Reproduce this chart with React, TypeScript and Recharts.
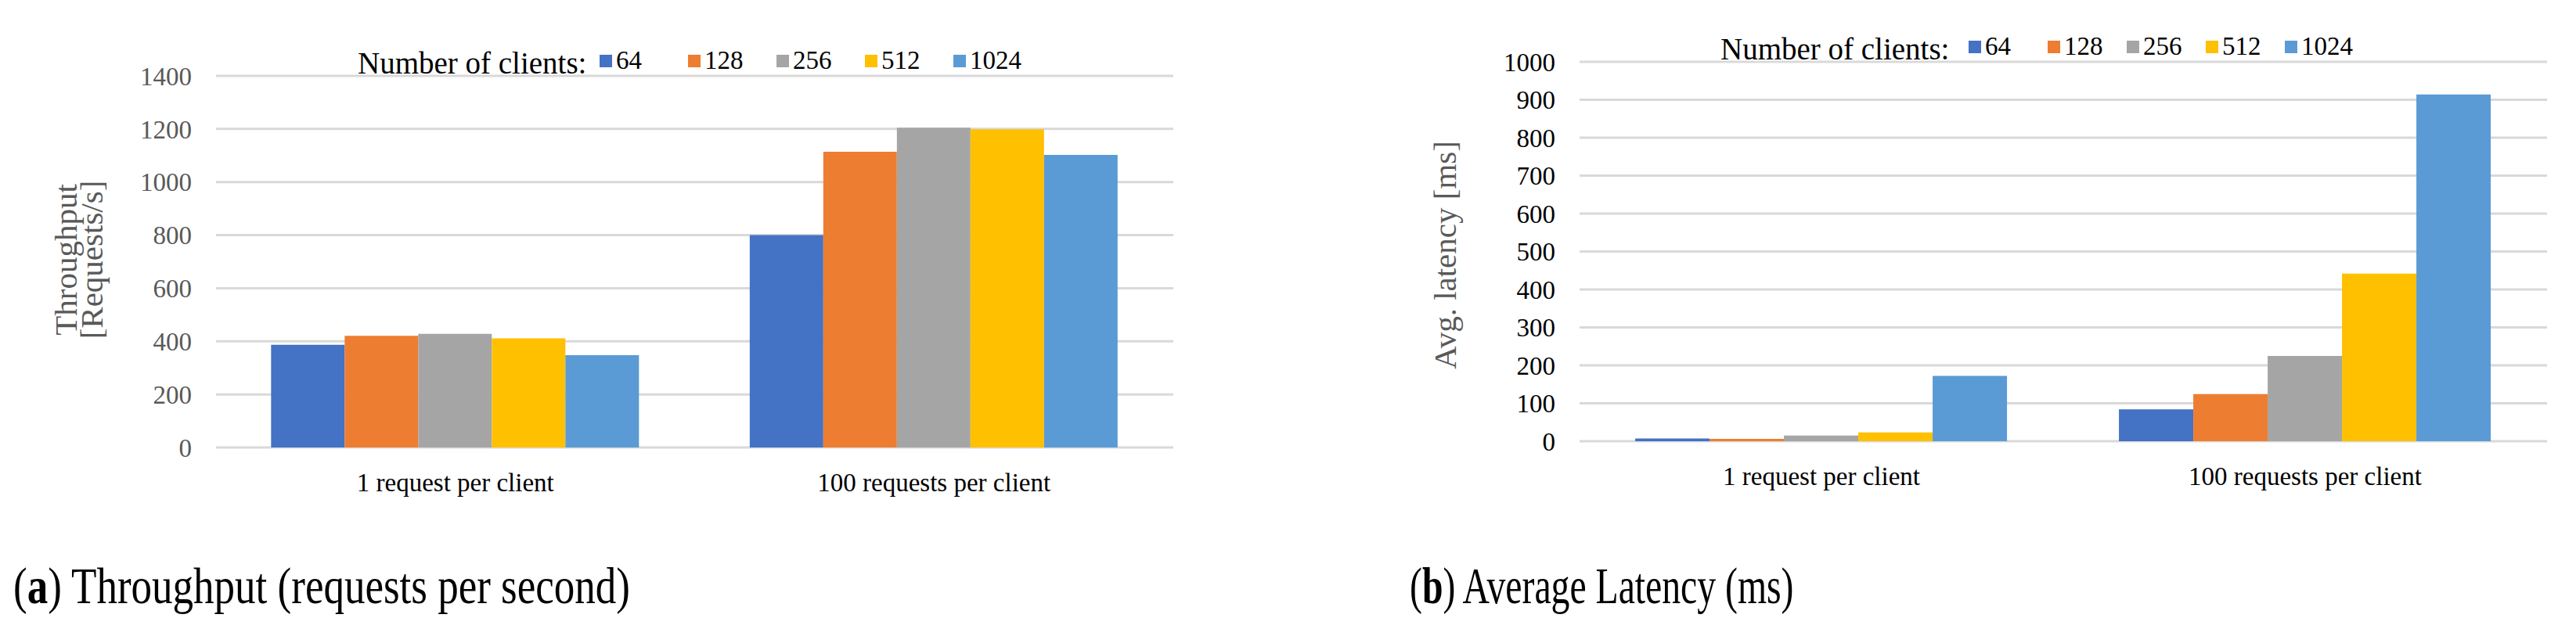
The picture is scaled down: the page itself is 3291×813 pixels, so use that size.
import { Bar, BarChart, CartesianGrid, Legend, XAxis, YAxis } from 'recharts'

const FONT = '"Liberation Serif", "Times New Roman", serif'

const CATEGORIES = ['1 request per client', '100 requests per client']
const CLIENTS = ['64', '128', '256', '512', '1024']
const COLORS = ['#4472C4', '#ED7D31', '#A5A5A5', '#FFC000', '#5B9BD5']

// throughput (requests/s), one array per client count: [1 request, 100 requests]
const TP_64 = [387, 800]
const TP_128 = [421, 1114]
const TP_256 = [428, 1205]
const TP_512 = [411, 1199]
const TP_1024 = [348, 1102]
const TP_TICKS = [0, 200, 400, 600, 800, 1000, 1200, 1400]

// avg latency (ms)
const LAT_64 = [7, 84]
const LAT_128 = [6, 124]
const LAT_256 = [15, 225]
const LAT_512 = [23, 442]
const LAT_1024 = [172, 914]
const LAT_TICKS = [0, 100, 200, 300, 400, 500, 600, 700, 800, 900, 1000]

function buildRows(series: number[][]) {
  return CATEGORIES.map((name, i) => {
    const row: Record<string, string | number> = { name }
    CLIENTS.forEach((c, k) => { row[c] = series[k][i] })
    return row
  })
}

const tpData = buildRows([TP_64, TP_128, TP_256, TP_512, TP_1024])
const latData = buildRows([LAT_64, LAT_128, LAT_256, LAT_512, LAT_1024])

// Excel-style legend: a "Number of clients:" lead-in, then equal-width entries.
function ClientLegend({ payload, titleWidth, titleDrop, entryWidth }: {
  payload?: any[]; titleWidth: number; titleDrop: number; entryWidth: number
}) {
  const items = [...(payload ?? [])].sort((a, b) => CLIENTS.indexOf(a.value) - CLIENTS.indexOf(b.value))
  return (
    <div style={{ display: 'flex', alignItems: 'center', fontFamily: FONT, color: '#000', whiteSpace: 'nowrap', lineHeight: 1 }}>
      <span style={{ fontSize: 39, width: titleWidth, position: 'relative', top: titleDrop }}>Number of clients:</span>
      {items.map((p) => (
        <span key={p.value} style={{ display: 'flex', alignItems: 'center', width: entryWidth }}>
          <span style={{ width: 16, height: 16, background: p.color, marginRight: 5 }} />
          <span style={{ fontSize: 33 }}>{p.value}</span>
        </span>
      ))}
    </div>
  )
}

function AxisTitle({ lines, cx, cy, fill }: { lines: string[]; cx: number[]; cy: number; fill: string }) {
  return (
    <g>
      {lines.map((t, i) => (
        <text
          key={t}
          x={cx[i]}
          y={cy}
          transform={`rotate(-90 ${cx[i]} ${cy})`}
          textAnchor="middle"
          dominantBaseline="central"
          fontFamily={FONT}
          fontSize={41}
          fill={fill}
        >
          {t}
        </text>
      ))}
    </g>
  )
}

function ClientBars() {
  return CLIENTS.map((c, k) => (
    <Bar key={c} dataKey={c} name={c} fill={COLORS[k]} isAnimationActive={false} />
  ))
}

const captionStyle: React.CSSProperties = {
  position: 'absolute', top: 723, fontFamily: FONT, fontSize: 53, lineHeight: 1,
  whiteSpace: 'nowrap', transformOrigin: '0 50%',
}

export default function App() {
  return (
    <div style={{ position: 'absolute', left: 0, top: 0, width: 3291, height: 813, background: '#fff' }}>
      <div style={{ position: 'absolute', left: 0, top: 0 }}>
        <BarChart
          width={1560}
          height={650}
          data={tpData}
          margin={{ top: 97, right: 61, bottom: 38, left: 0 }}
          barGap={0}
          barCategoryGap="11.5%"
        >
          <CartesianGrid vertical={false} stroke="#d9d9d9" strokeWidth={3} />
          <XAxis
            dataKey="name"
            height={40}
            axisLine={false}
            tickLine={false}
            tickSize={0}
            tickMargin={33}
            tick={{ fontSize: 33, fill: '#000', fontFamily: FONT }}
          />
          <YAxis
            width={276}
            domain={[0, 1400]}
            ticks={TP_TICKS}
            axisLine={false}
            tickLine={false}
            tickSize={0}
            tickMargin={31}
            tick={{ fontSize: 33, fill: '#595959', fontFamily: FONT }}
            label={{ content: () => <AxisTitle lines={['Throughput', '[Requests/s]']} cx={[84, 117]} cy={332} fill="#595959" /> }}
          />
          <Legend
            layout="vertical"
            align="center"
            verticalAlign="middle"
            wrapperStyle={{ left: 457, top: 58, width: 'auto' }}
            content={(props: any) => <ClientLegend payload={props.payload} titleWidth={309} titleDrop={3} entryWidth={113} />}
          />
          {ClientBars()}
        </BarChart>
      </div>

      <div style={{ position: 'absolute', left: 1650, top: 0 }}>
        <BarChart
          width={1641}
          height={650}
          data={latData}
          margin={{ top: 79, right: 37, bottom: 46, left: 0 }}
          barGap={0}
          barCategoryGap="11.5%"
        >
          <CartesianGrid vertical={false} stroke="#d9d9d9" strokeWidth={3} />
          <XAxis
            dataKey="name"
            height={40}
            axisLine={false}
            tickLine={false}
            tickSize={0}
            tickMargin={33}
            tick={{ fontSize: 33, fill: '#000', fontFamily: FONT }}
          />
          <YAxis
            width={368}
            domain={[0, 1000]}
            ticks={LAT_TICKS}
            axisLine={false}
            tickLine={false}
            tickSize={0}
            tickMargin={31}
            tick={{ fontSize: 33, fill: '#000', fontFamily: FONT }}
            label={{ content: () => <AxisTitle lines={['Avg. latency [ms]']} cx={[196]} cy={326} fill="#595959" /> }}
          />
          <Legend
            layout="vertical"
            align="center"
            verticalAlign="middle"
            wrapperStyle={{ left: 548, top: 40, width: 'auto' }}
            content={(props: any) => <ClientLegend payload={props.payload} titleWidth={317} titleDrop={3} entryWidth={101} />}
          />
          {ClientBars()}
        </BarChart>
      </div>

      <div style={{ ...captionStyle, left: 17, transform: 'scaleY(1.25)' }}>
        (<b>a</b>) Throughput (requests per second)
      </div>
      <div style={{ ...captionStyle, left: 1801, transform: 'scale(0.9, 1.25)' }}>
        (<b>b</b>) Average Latency (ms)
      </div>
    </div>
  )
}
